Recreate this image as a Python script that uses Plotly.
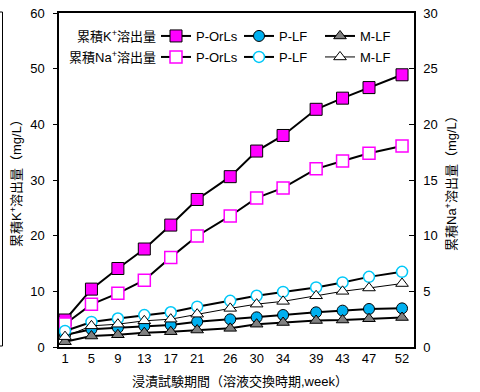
import plotly.graph_objects as go

weeks = [1, 5, 9, 13, 17, 21, 26, 30, 34, 39, 43, 47, 52]

# cumulative K+ (left axis, mg/L)
k_porls = [4.85, 10.4, 14.1, 17.6, 21.9, 26.5, 30.6, 35.2, 38.0, 42.7, 44.7, 46.6, 48.9]
k_plf = [2.15, 3.18, 3.47, 3.77, 3.95, 4.55, 4.97, 5.33, 5.75, 6.23, 6.53, 6.83, 6.94]
k_mlf = [0.95, 1.97, 2.2, 2.57, 2.75, 3.05, 3.35, 4.1, 4.4, 4.76, 4.85, 5.08, 5.3]

# cumulative Na+ (right axis, mg/L)
na_porls = [2.07, 3.83, 4.82, 6.0, 8.05, 9.97, 11.77, 13.39, 14.29, 16.0, 16.7, 17.4, 18.05]
na_plf = [1.44, 2.25, 2.56, 2.87, 3.12, 3.62, 4.15, 4.6, 4.95, 5.35, 5.8, 6.3, 6.75]
na_mlf = [0.93, 1.9, 2.05, 2.35, 2.5, 2.95, 3.47, 3.85, 4.1, 4.6, 5.0, 5.3, 5.7]

x_ticks = weeks
y_left_ticks = [0, 10, 20, 30, 40, 50, 60]
y_right_ticks = [0, 5, 10, 15, 20, 25, 30]

FONT = "Liberation Sans, Arial, Noto Sans CJK JP"
MAGENTA = "#FF00FF"
CYAN = "#00B0F0"
CYAN_OPEN = "#00C8F8"
GRAY = "#808080"

W, H = 480, 392
ML, MR, MT, MB = 59, 64, 13, 43
PW, PH = W - ML - MR, H - MT - MB
SH = 2  # shadow offset px

def px(v):
    return (v - ML) / PW

def py(v):
    return (H - MB - v) / PH

series = [
    # name, data, axis, symbol, fill, border color, border width, line width, size
    ("P-OrLs", k_porls, "k", "square", MAGENTA, "black", 1, 2, 12),
    ("P-LF", k_plf, "k", "circle", CYAN, "black", 1, 2, 11),
    ("M-LF", k_mlf, "k", "triangle-up", GRAY, "black", 1, 2, 11),
    ("P-OrLs", na_porls, "na", "square", "white", MAGENTA, 1.5, 2, 12),
    ("P-LF", na_plf, "na", "circle", "white", CYAN_OPEN, 1.5, 2, 11),
    ("M-LF", na_mlf, "na", "triangle-up", "white", "black", 1, 1, 11),
]
legend_ids = ["legend", "legend2", "legend3", "legend4", "legend5", "legend6"]
legend_text_x = [199, 282, 363]
legend_row_y = [36, 57]

fig = go.Figure()

# marker shadows (hidden, slightly shifted axes)
for name, data, ax, sym, fill, bc, bw, lw, sz in series:
    fig.add_trace(go.Scatter(
        x=weeks, y=data, mode="markers", xaxis="x",
        yaxis="y" if ax == "k" else "y2",
        marker=dict(symbol=sym, size=sz, color="black", line=dict(color="black", width=bw)),
        showlegend=False, hoverinfo="skip"))

# real series on visible axes (Na first so K draws on top)
order = [3, 4, 5, 0, 1, 2]
for i in order:
    name, data, ax, sym, fill, bc, bw, lw, sz = series[i]
    fig.add_trace(go.Scatter(
        x=weeks, y=data, mode="lines+markers", name=name, xaxis="x2",
        yaxis="y3" if ax == "k" else "y4",
        line=dict(color="black", width=lw),
        marker=dict(symbol=sym, size=sz, color=fill, line=dict(color=bc, width=bw)),
        legend=legend_ids[i]))

xr = [0.09, 53.81]
axis_font = dict(family=FONT, size=13, color="black")

layout_legends = {}
for i, lid in enumerate(legend_ids):
    row, col = divmod(i, 3)
    layout_legends[lid] = dict(
        orientation="h", xanchor="left", yanchor="middle",
        x=px(legend_text_x[col] - 43), y=py(legend_row_y[row]),
        bgcolor="rgba(0,0,0,0)", font=dict(family=FONT, size=13, color="black"),
        itemwidth=30)

fig.update_layout(
    width=W, height=H,
    margin=dict(l=ML, r=MR, t=MT, b=MB, autoexpand=False),
    paper_bgcolor="white", plot_bgcolor="white",
    font=dict(family=FONT, size=13, color="black"),
    xaxis=dict(domain=[SH / PW, 1], range=xr, visible=False, anchor="y"),
    yaxis=dict(domain=[0, 1 - SH / PH], range=[0, 60], visible=False, anchor="x"),
    yaxis2=dict(range=[0, 30], visible=False, overlaying="y", anchor="x", side="right"),
    xaxis2=dict(domain=[0, 1 - SH / PW], range=xr, anchor="y3", automargin=False,
                tickmode="array", tickvals=x_ticks, ticktext=[str(t) for t in x_ticks],
                ticks="", showline=True, linecolor="black", linewidth=2, mirror=True,
                showgrid=False, zeroline=False, tickfont=axis_font, ticklabelstandoff=-2),
    yaxis3=dict(domain=[SH / PH, 1], range=[0, 60], anchor="x2", automargin=False,
                tickmode="array", tickvals=y_left_ticks,
                ticks="outside", ticklen=4, tickcolor="black", tickwidth=1,
                showline=True, linecolor="black", linewidth=1.5,
                showgrid=False, zeroline=False, tickfont=axis_font, ticklabelstandoff=6),
    yaxis4=dict(range=[0, 30], overlaying="y3", anchor="x2", side="right", automargin=False,
                tickmode="array", tickvals=y_right_ticks,
                ticks="inside", ticklen=5, tickcolor="black", tickwidth=1,
                showline=True, linecolor="black", linewidth=1.5,
                showgrid=False, zeroline=False, tickfont=axis_font, ticklabelstandoff=5),
    showlegend=True,
    **layout_legends,
)

annots = [
    dict(text="累積K<sup>+</sup>溶出量", x=px(158), y=py(36), xanchor="right", yanchor="middle"),
    dict(text="累積Na<sup>+</sup>溶出量", x=px(158), y=py(57), xanchor="right", yanchor="middle"),
    dict(text="累積K<sup>+</sup>溶出量（mg/L）", x=px(16), y=py(180), textangle=-90,
         xanchor="center", yanchor="middle"),
    dict(text="累積Na<sup>+</sup>溶出量（mg/L）", x=px(451), y=py(180), textangle=-90,
         xanchor="center", yanchor="middle"),
    dict(text="浸漬試験期間（溶液交換時期,week）", x=px(240), y=py(381),
         xanchor="center", yanchor="middle"),
]
for a in annots:
    fig.add_annotation(xref="paper", yref="paper", showarrow=False,
                       font=dict(family=FONT, size=13, color="black"), **a)

# fragment of neighbouring frame at the far left
fig.add_shape(type="path", xref="paper", yref="paper",
              path=f"M {px(0)} {py(12)} L {px(2.5)} {py(12)} L {px(2.5)} {py(346)} L {px(0)} {py(346)}",
              line=dict(color="black", width=1))

fig.write_html("out.html", config={"displayModeBar": False},
               post_script="document.body.style.margin='0';document.body.style.padding='0';")
